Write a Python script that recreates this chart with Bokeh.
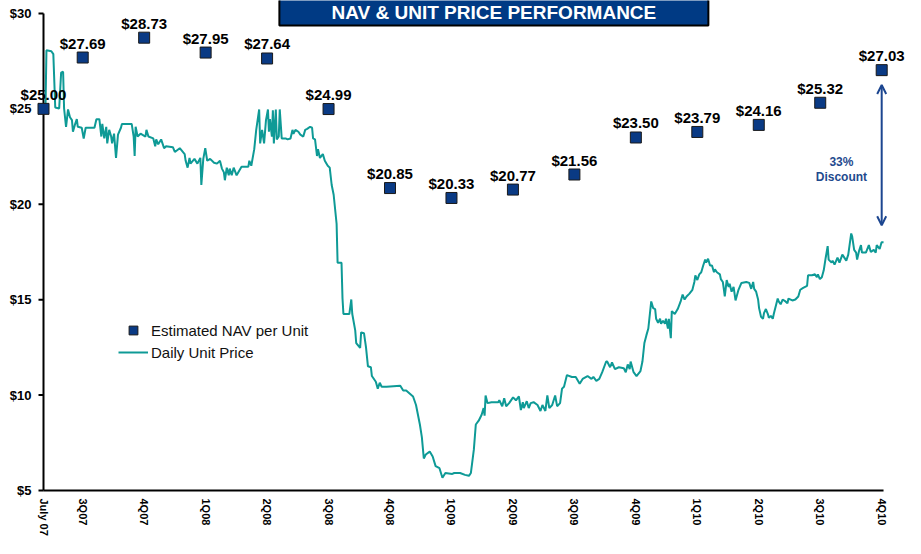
from bokeh.plotting import figure
from bokeh.models import (ColumnDataSource, FixedTicker, LabelSet, Label,
                          Legend, LegendItem, Arrow, OpenHead, Range1d)
from bokeh.core.properties import value
from bokeh.embed import file_html
from bokeh.resources import INLINE

# ---------------- data ----------------
quarter_labels = ["July 07", "3Q07", "4Q07", "1Q08", "2Q08", "3Q08", "4Q08", "1Q09",
                  "2Q09", "3Q09", "4Q09", "1Q10", "2Q10", "3Q10", "4Q10"]
quarter_pos = [-0.638, 0, 1, 2, 3, 4, 5, 6, 7, 8, 9, 10, 11, 12, 13]
nav_values = [25.00, 27.69, 28.73, 27.95, 27.64, 24.99, 20.85, 20.33, 20.77, 21.56,
              23.50, 23.79, 24.16, 25.32, 27.03]
y_ticks = [5, 10, 15, 20, 25, 30]
y_tick_labels = ["$5", "$10", "$15", "$20", "$25", "$30"]

price_q = [
    -0.638, -0.606, -0.590, -0.510, -0.478, -0.447, -0.383, -0.351, -0.319, -0.303, -0.271, -0.239, -0.207, -0.175, -0.159, -0.128, -0.096, -0.080, -0.016,
    0.016, 0.048, 0.191, 0.223, 0.271, 0.303, 0.319, 0.351, 0.383, 0.399, 0.431, 0.463, 0.478, 0.510, 0.542, 0.574, 0.622, 0.638, 0.797, 0.829, 0.845, 0.861, 0.893, 0.941,
    1.021, 1.037, 1.069, 1.148, 1.180, 1.196, 1.228, 1.276, 1.324, 1.356, 1.467, 1.499, 1.579, 1.659, 1.675, 1.707, 1.738, 1.754, 1.818, 1.866, 1.914, 1.930, 1.962, 1.994,
    2.026, 2.073, 2.137, 2.185, 2.233, 2.265, 2.297, 2.313, 2.344, 2.376, 2.392, 2.424, 2.456, 2.504, 2.584, 2.695, 2.711, 2.743, 2.791, 2.823, 2.871, 2.887, 2.919, 2.951, 2.982,
    3.014, 3.030, 3.046, 3.078, 3.094, 3.110, 3.142, 3.158, 3.190, 3.206, 3.238, 3.301, 3.333, 3.381, 3.413, 3.429, 3.461, 3.509, 3.541, 3.589, 3.620, 3.652, 3.700, 3.732, 3.748, 3.780, 3.812, 3.828, 3.860, 3.907, 3.939, 3.987,
    4.019, 4.051, 4.083, 4.131, 4.147, 4.211, 4.227, 4.242, 4.338, 4.370, 4.386, 4.434, 4.450, 4.514, 4.530, 4.577, 4.609, 4.641, 4.689, 4.705, 4.769, 4.801, 4.833, 4.864, 4.944,
    5.167, 5.215, 5.263, 5.375, 5.423, 5.486, 5.518, 5.550, 5.582, 5.646, 5.694, 5.742, 5.805, 5.853, 5.901,
    6.013, 6.045, 6.093, 6.140, 6.220, 6.284, 6.316, 6.364, 6.396, 6.443, 6.491, 6.523, 6.539, 6.555, 6.587, 6.651, 6.762, 6.778, 6.826, 6.858, 6.890, 6.938,
    7.002, 7.049, 7.097, 7.129, 7.161, 7.177, 7.225, 7.257, 7.289, 7.336, 7.400, 7.448, 7.480, 7.528, 7.560, 7.592, 7.639, 7.687, 7.719, 7.767, 7.799, 7.831, 7.879, 7.959,
    8.022, 8.086, 8.134, 8.214, 8.278, 8.309, 8.357, 8.405, 8.453, 8.517, 8.533, 8.581, 8.612, 8.660, 8.724, 8.804, 8.836, 8.868, 8.900, 8.915, 8.963,
    9.011, 9.075, 9.107, 9.139, 9.171, 9.203, 9.250, 9.282, 9.314, 9.330, 9.362, 9.394, 9.410, 9.442, 9.474, 9.490, 9.522, 9.537, 9.569, 9.585, 9.633, 9.681, 9.729, 9.761, 9.793, 9.825, 9.872, 9.920, 9.952, 9.968,
    10.000, 10.032, 10.064, 10.096, 10.128, 10.144, 10.175, 10.207, 10.239, 10.271, 10.287, 10.319, 10.367, 10.383, 10.415, 10.431, 10.447, 10.478, 10.510, 10.526, 10.558, 10.590, 10.622, 10.670, 10.718, 10.797, 10.845, 10.877, 10.909, 10.925, 10.957, 10.989,
    11.005, 11.037, 11.069, 11.085, 11.116, 11.148, 11.164, 11.196, 11.228, 11.244, 11.276, 11.308, 11.324, 11.356, 11.388, 11.435, 11.467, 11.483, 11.547, 11.595, 11.643, 11.675, 11.722, 11.786, 11.802, 11.866, 11.914, 11.946, 11.962, 11.994,
    12.026, 12.057, 12.089, 12.121, 12.137, 12.185, 12.201, 12.233, 12.281, 12.313, 12.360, 12.424, 12.456, 12.504, 12.520, 12.552, 12.584, 12.600, 12.632, 12.663, 12.679, 12.743, 12.791, 12.823, 12.871, 12.903, 12.919, 12.967, 12.998, 13.030,
]
price_values = [
    25.00, 25.00, 28.07, 28.02, 27.87, 25.07, 25.02, 26.90, 26.95, 25.02, 24.06, 24.97, 24.56, 24.41, 23.80, 24.16, 24.46, 24.06, 24.01,
    23.45, 24.01, 24.01, 24.46, 24.46, 23.55, 24.21, 23.45, 24.06, 23.19, 23.90, 23.55, 23.19, 23.70, 22.43, 23.65, 24.01, 24.21, 24.21, 23.55, 22.53, 24.06, 23.55, 23.70,
    23.55, 23.90, 23.55, 23.45, 23.04, 23.40, 23.14, 23.40, 22.94, 23.04, 22.99, 22.74, 22.94, 22.63, 22.28, 21.92, 22.43, 22.13, 22.38, 22.13, 22.43, 21.01, 22.38, 22.94,
    22.28, 22.38, 22.18, 22.13, 22.28, 21.87, 21.67, 21.26, 21.92, 21.52, 21.87, 21.52, 21.92, 21.52, 21.97, 21.97, 22.28, 22.02, 22.89, 23.90, 24.97, 23.19, 23.90, 23.19, 24.41,
    24.97, 23.80, 24.46, 23.55, 24.92, 23.19, 24.97, 23.40, 23.55, 24.97, 23.45, 23.45, 23.40, 23.45, 23.90, 23.70, 23.90, 23.80, 23.65, 23.55, 23.90, 23.95, 24.06, 24.01, 23.45, 23.40, 22.53, 22.89, 22.43, 22.63, 22.28, 22.02,
    21.92, 21.01, 20.50, 18.98, 16.94, 16.94, 15.06, 14.25, 14.25, 15.01, 14.25, 13.39, 12.73, 12.47, 13.29, 13.24, 12.52, 11.51, 11.46, 11.00, 10.70, 10.34, 10.65, 10.44, 10.44,
    10.49, 10.24, 10.24, 9.93, 9.48, 8.46, 7.80, 6.68, 6.89, 7.04, 6.78, 6.28, 6.17, 5.67, 5.92,
    5.87, 5.92, 5.92, 5.92, 5.82, 5.77, 5.92, 7.14, 8.46, 8.66, 8.97, 9.32, 8.92, 9.98, 9.58, 9.63, 9.63, 9.73, 9.42, 9.83, 9.42, 9.58,
    9.88, 9.73, 9.93, 9.22, 9.63, 9.32, 9.68, 9.32, 9.58, 9.63, 9.48, 9.17, 9.48, 9.17, 9.98, 9.32, 9.48, 9.98, 9.42, 9.58, 10.34, 10.44, 11.05, 10.95,
    10.95, 10.59, 10.85, 11.00, 10.85, 10.95, 10.75, 10.85, 11.20, 11.76, 11.76, 11.46, 11.71, 11.36, 11.46, 11.41, 11.20, 11.61, 11.36, 11.76, 11.20,
    11.00, 11.26, 11.76, 12.73, 13.13, 13.49, 14.91, 14.56, 14.51, 14.00, 13.79, 14.00, 13.74, 13.90, 13.74, 14.00, 13.49, 14.00, 12.98, 14.40, 14.25, 14.51, 14.91, 15.27, 15.01, 15.17, 15.32, 15.52, 15.93, 16.28,
    16.03, 16.33, 16.44, 16.79, 17.10, 16.94, 17.15, 16.79, 16.79, 16.44, 16.59, 16.44, 16.33, 16.08, 15.93, 15.57, 15.17, 16.03, 15.67, 15.83, 15.42, 15.67, 14.96, 15.52, 15.88, 15.93, 15.88, 15.57, 15.93, 15.57, 15.42, 15.01,
    14.56, 14.10, 14.00, 14.30, 14.51, 14.25, 14.05, 14.15, 14.00, 14.25, 14.66, 15.06, 14.91, 14.76, 15.01, 14.91, 14.81, 15.06, 14.96, 15.01, 15.17, 15.52, 15.62, 15.73, 16.28, 16.28, 16.33, 16.18, 16.33, 16.08,
    16.18, 16.54, 17.20, 17.81, 17.10, 16.94, 17.05, 16.84, 17.20, 16.94, 17.36, 17.05, 17.36, 18.47, 18.31, 17.61, 17.47, 17.10, 17.56, 17.86, 17.47, 17.47, 17.86, 17.50, 17.61, 17.47, 17.86, 17.66, 18.01, 18.01,
]
assert len(price_q) == len(price_values)

title_text = "NAV & UNIT PRICE PERFORMANCE"
discount_pct = "33%"
discount_word = "Discount"
discount_top = 26.25      # arrow end just below last NAV marker
discount_bottom = 18.90   # arrow end just above last unit price

# ---------------- styling ----------------
FONT = "Liberation Sans"
TEAL = "#0e9a96"
NAVY = "#0a3a84"
TITLE_BLUE = "#003a84"
ARROW_BLUE = "#1c4690"
PX_PER_Q = 61.46          # horizontal scale: pixels per quarter
PX_PER_D = 19.16          # vertical scale: pixels per dollar
TICK_LEN = 5 / PX_PER_Q   # 5px tick marks on the value axis

x0 = quarter_pos[0]
x_last = quarter_pos[-1]
p = figure(width=905, height=538, output_backend="svg", toolbar_location=None,
           y_axis_location=None,
           x_range=Range1d(x0 - 43 / PX_PER_Q, x0 + (905 - 43) / PX_PER_Q),
           y_range=Range1d(y_ticks[0] - 8 / PX_PER_D, y_ticks[-1] + 13 / PX_PER_D),
           min_border_left=0, min_border_right=0, min_border_top=0, min_border_bottom=38)
p.outline_line_color = None
p.grid.visible = False
p.background_fill_color = "white"
p.border_fill_color = "white"

# value axis and baseline drawn by hand (so their labels are not clipped)
p.segment(x0=[x0], y0=[y_ticks[0]], x1=[x0], y1=[y_ticks[-1]], line_color="black", line_width=2)
p.segment(x0=[x0], y0=[y_ticks[0]], x1=[x_last + 0.03], y1=[y_ticks[0]], line_color="black", line_width=2)
p.segment(x0=[x0 - TICK_LEN] * len(y_ticks), y0=y_ticks, x1=[x0] * len(y_ticks), y1=y_ticks,
          line_color="black", line_width=2)
p.text(x=[x0] * len(y_ticks), y=y_ticks, text=y_tick_labels, x_offset=-12,
       text_align="right", text_baseline="middle", text_font=value(FONT),
       text_font_style="bold", text_font_size="13px", text_color="black")

# x axis: only its labels are shown
p.xaxis.ticker = FixedTicker(ticks=quarter_pos)
p.xaxis.major_label_overrides = {q: lab for q, lab in zip(quarter_pos, quarter_labels)}
p.xaxis.major_label_orientation = "vertical"
p.xaxis.axis_line_color = None
p.xaxis.major_tick_line_color = None
p.xaxis.major_tick_out = 0
p.xaxis.major_tick_in = 0
p.xaxis.minor_tick_line_color = None
p.xaxis.major_label_text_font = FONT
p.xaxis.major_label_text_font_style = "bold"
p.xaxis.major_label_text_font_size = "11px"
p.xaxis.major_label_text_color = "black"
p.xaxis.major_label_standoff = 0

# title box (runs off the top edge like the reference)
p.quad(left=3.2, right=10.18, bottom=29.373, top=31.5,
       fill_color=TITLE_BLUE, line_color="black", line_width=2)
p.add_layout(Label(x=6.69, y=30.03, text=title_text, text_align="center",
                   text_baseline="middle", text_color="white", text_font=FONT,
                   text_font_style="bold", text_font_size="19px"))

# price line
line_r = p.line(price_q, price_values, line_width=2, line_color=TEAL)

# NAV squares
nav_src = ColumnDataSource(dict(x=quarter_pos, y=nav_values,
                                text=[f"${v:.2f}" for v in nav_values]))
nav_r = p.scatter("x", "y", source=nav_src, marker="square", size=11,
                  fill_color=NAVY, line_color="#1a1a1a", line_width=1)
p.add_layout(LabelSet(x="x", y="y", text="text", source=nav_src, y_offset=9,
                      text_align="center", text_baseline="alphabetic",
                      text_font=value(FONT), text_font_style="bold",
                      text_font_size="15px", text_color="black"))

# discount arrow
p.add_layout(Arrow(x_start=x_last, y_start=discount_bottom, x_end=x_last, y_end=discount_top,
                   line_color=ARROW_BLUE, line_width=2,
                   start=OpenHead(size=9, line_color=ARROW_BLUE, line_width=2),
                   end=OpenHead(size=9, line_color=ARROW_BLUE, line_width=2)))
p.add_layout(Label(x=12.345, y=22.2, text=discount_pct, text_align="center",
                   text_baseline="middle", text_color="#1f4a8e", text_font=FONT,
                   text_font_style="bold", text_font_size="12px"))
p.add_layout(Label(x=12.345, y=21.45, text=discount_word, text_align="center",
                   text_baseline="middle", text_color="#1f4a8e", text_font=FONT,
                   text_font_style="bold", text_font_size="12px"))

# legend
legend = Legend(items=[LegendItem(label="Estimated NAV per Unit", renderers=[nav_r]),
                       LegendItem(label="Daily Unit Price", renderers=[line_r])],
                location=(118, 135), glyph_width=30, glyph_height=22, spacing=0,
                padding=0, margin=0, label_standoff=3, label_height=22,
                background_fill_alpha=0, border_line_color=None,
                label_text_font=FONT, label_text_font_size="15px",
                label_text_color="#111111")
p.add_layout(legend)

open("out.html", "w").write(file_html(p, INLINE))
